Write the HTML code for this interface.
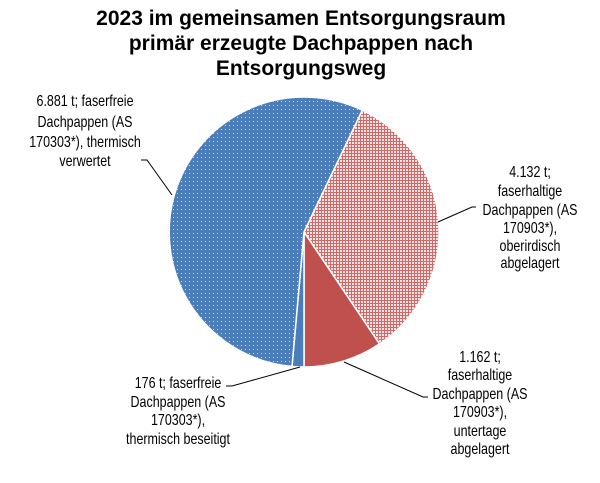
<!DOCTYPE html>
<html><head><meta charset="utf-8"><style>
html,body{margin:0;padding:0;background:#fff;}
svg{display:block;font-family:"Liberation Sans",Arial,sans-serif;}
</style></head><body>
<svg width="600" height="483" viewBox="0 0 600 483" xmlns="http://www.w3.org/2000/svg">
<defs>
<pattern id="dots" width="4" height="4" patternUnits="userSpaceOnUse">
<rect width="4" height="4" fill="#4a7ebb"/>
<rect x="1" y="1" width="1" height="1" fill="#c8d8ee"/>
</pattern>
<pattern id="grid" width="3" height="3" patternUnits="userSpaceOnUse">
<rect width="3" height="3" fill="#f6e4e4"/>
<rect x="0" y="0" width="3" height="1" fill="#cf6a68"/>
<rect x="0" y="0" width="1" height="3" fill="#cf6a68"/>
</pattern>
</defs>
<rect width="600" height="483" fill="#fff"/>
<g font-weight="bold" font-size="21" text-anchor="middle" fill="#000">
<text x="301" y="25">2023 im gemeinsamen Entsorgungsraum</text>
<text x="301" y="50">primär erzeugte Dachpappen nach</text>
<text x="301" y="75">Entsorgungsweg</text>
</g>
<g stroke="#fff" stroke-width="1.5">
<path d="M304,232 L362.3,110.2 A135,135 0 0 1 379.5,343.9 Z" fill="url(#grid)"/>
<path d="M304,232 L379.5,343.9 A135,135 0 0 1 304,367 Z" fill="#c0504d"/>
<path d="M304,232 L304,367 A135,135 0 0 1 292,366.5 Z" fill="#4a7ebb"/>
<path d="M304,232 L292,366.5 A135,135 0 1 1 362.3,110.2 Z" fill="url(#dots)"/>
</g>
<g stroke="#000" stroke-width="1" fill="none">
<polyline points="141,160 147,160 172,195"/>
<polyline points="438,222 472,207 476,207"/>
<polyline points="344,362 423,397 428,397"/>
<polyline points="300,367 232,386 226,386"/>
</g>
<g font-size="16" fill="#000" text-anchor="middle">
<g transform="translate(85,0)">
<text transform="translate(0,106) scale(0.78,1)">6.881 t; faserfreie</text>
<text transform="translate(0,127) scale(0.78,1)">Dachpappen (AS</text>
<text transform="translate(0,147) scale(0.78,1)">170303*), thermisch</text>
<text transform="translate(0,166) scale(0.78,1)">verwertet</text>
</g>
<g transform="translate(530,0)">
<text transform="translate(0,177) scale(0.78,1)">4.132 t;</text>
<text transform="translate(0,196) scale(0.78,1)">faserhaltige</text>
<text transform="translate(0,215) scale(0.78,1)">Dachpappen (AS</text>
<text transform="translate(0,233) scale(0.78,1)">170903*),</text>
<text transform="translate(0,251) scale(0.78,1)">oberirdisch</text>
<text transform="translate(0,268) scale(0.78,1)">abgelagert</text>
</g>
<g transform="translate(480,0)">
<text transform="translate(0,362) scale(0.78,1)">1.162 t;</text>
<text transform="translate(0,380) scale(0.78,1)">faserhaltige</text>
<text transform="translate(0,399) scale(0.78,1)">Dachpappen (AS</text>
<text transform="translate(0,417) scale(0.78,1)">170903*),</text>
<text transform="translate(0,436) scale(0.78,1)">untertage</text>
<text transform="translate(0,454) scale(0.78,1)">abgelagert</text>
</g>
<g transform="translate(178,0)">
<text transform="translate(0,388) scale(0.78,1)">176 t; faserfreie</text>
<text transform="translate(0,407) scale(0.78,1)">Dachpappen (AS</text>
<text transform="translate(0,425) scale(0.78,1)">170303*),</text>
<text transform="translate(0,444) scale(0.78,1)">thermisch beseitigt</text>
</g>
</g>
</svg>
</body></html>
